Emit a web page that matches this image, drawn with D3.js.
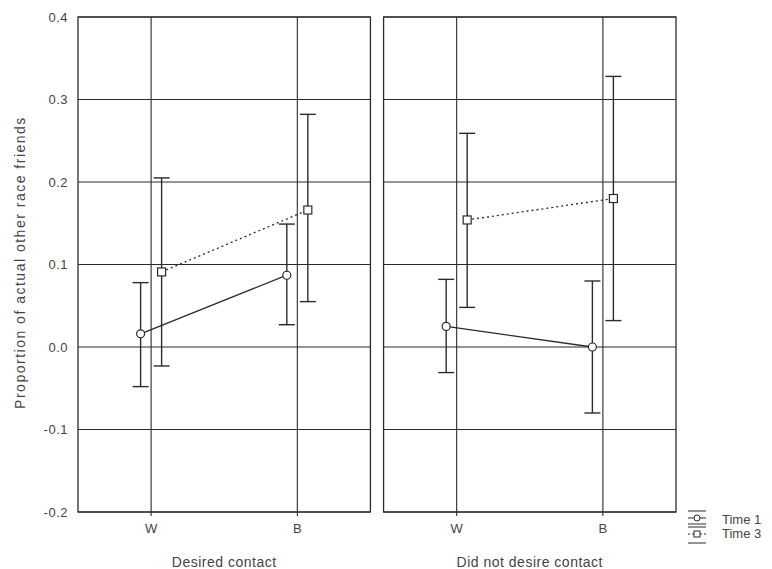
<!DOCTYPE html>
<html>
<head>
<meta charset="utf-8">
<script src="https://cdn.jsdelivr.net/npm/d3@7"></script>
<style>
  body { margin: 0; background: #fff; }
  text { font-family: "Liberation Sans", Arial, sans-serif; fill: #444; }
</style>
</head>
<body>
<svg id="chart" width="772" height="569"></svg>
<script>
// data
var panels = ["Desired contact", "Did not desire contact"]
var groups = ["W", "B"]
var seriesNames = ["Time 1", "Time 3"]
var yTicks = [-0.2, -0.1, 0.0, 0.1, 0.2, 0.3, 0.4]
var yTickLabels = ["-0.2", "-0.1", "0.0", "0.1", "0.2", "0.3", "0.4"]

// order: Desired W, Desired B, Not desired W, Not desired B
var time1Mean = [0.016, 0.087, 0.025, 0.000]
var time1Low  = [-0.048, 0.027, -0.031, -0.080]
var time1High = [0.078, 0.149, 0.082, 0.080]
var time3Mean = [0.091, 0.166, 0.154, 0.180]
var time3Low  = [-0.023, 0.055, 0.048, 0.032]
var time3High = [0.205, 0.282, 0.259, 0.328]

var svg = d3.select("#chart")
var lineColor = "#2b2b2b"

var y = d3.scaleLinear().domain([-0.2, 0.4]).range([512, 17])
var panelX = d3.scaleBand().domain(panels).range([78, 676]).paddingInner(0.043)
var groupX = d3.scalePoint().domain(groups).range([0, panelX.bandwidth()]).padding(0.5)
var dodge = d3.scalePoint().domain(seriesNames).range([-10.5, 10.5])

var rows = []
panels.forEach(function(p, pi) {
  groups.forEach(function(g, gi) {
    var i = pi * 2 + gi
    rows.push({ panel: p, group: g, series: "Time 1", mean: time1Mean[i], lo: time1Low[i], hi: time1High[i] })
    rows.push({ panel: p, group: g, series: "Time 3", mean: time3Mean[i], lo: time3Low[i], hi: time3High[i] })
  })
})

function xPos(d) { return panelX(d.panel) + groupX(d.group) + dodge(d.series) }

// panels: frame + grid
panels.forEach(function(p) {
  var x0 = panelX(p), x1 = x0 + panelX.bandwidth()
  var g = svg.append("g")

  g.selectAll("line.hgrid")
    .data(yTicks)
    .enter()
    .append("line")
    .attr("x1", x0).attr("x2", x1)
    .attr("y1", d => y(d)).attr("y2", d => y(d))
    .style("stroke", lineColor).style("stroke-width", 1.1)

  g.selectAll("line.vgrid")
    .data(groups)
    .enter()
    .append("line")
    .attr("x1", d => x0 + groupX(d)).attr("x2", d => x0 + groupX(d))
    .attr("y1", y(0.4)).attr("y2", y(-0.2) + 4)
    .style("stroke", lineColor).style("stroke-width", 1.1)

  g.append("rect")
    .attr("x", x0).attr("y", y(0.4))
    .attr("width", x1 - x0).attr("height", y(-0.2) - y(0.4))
    .style("fill", "none").style("stroke", lineColor).style("stroke-width", 1.3)

  g.selectAll("text.xtick")
    .data(groups)
    .enter()
    .append("text")
    .attr("x", d => x0 + groupX(d))
    .attr("y", 533)
    .attr("text-anchor", "middle")
    .style("font-size", "13px")
    .text(d => d)

  g.append("text")
    .attr("x", (x0 + x1) / 2)
    .attr("y", 567)
    .attr("text-anchor", "middle")
    .style("font-size", "14px")
    .style("letter-spacing", "0.5px")
    .text(p)
})

// y tick labels
svg.selectAll("text.ytick")
  .data(yTicks)
  .enter()
  .append("text")
  .attr("x", 68)
  .attr("y", d => y(d))
  .attr("dy", "0.35em")
  .attr("text-anchor", "end")
  .style("font-size", "13px")
  .style("letter-spacing", "0.5px")
  .text((d, i) => yTickLabels[i])

svg.append("text")
  .attr("transform", "translate(25," + (y(0.1) - 2) + ") rotate(-90)")
  .attr("text-anchor", "middle")
  .style("font-size", "14px")
  .style("letter-spacing", "1.5px")
  .text("Proportion of actual other race friends")

// connecting lines within each panel
panels.forEach(function(p) {
  seriesNames.forEach(function(s) {
    var pts = rows.filter(d => d.panel == p && d.series == s)
    svg.append("path")
      .datum(pts)
      .attr("d", d3.line().x(xPos).y(d => y(d.mean)))
      .style("fill", "none")
      .style("stroke", lineColor)
      .style("stroke-width", 1.3)
      .style("stroke-dasharray", s == "Time 3" ? "2,3" : null)
  })
})

// error bars
svg.selectAll("line.err")
  .data(rows)
  .enter()
  .append("line")
  .attr("x1", xPos).attr("x2", xPos)
  .attr("y1", d => y(d.lo)).attr("y2", d => y(d.hi))
  .style("stroke", lineColor).style("stroke-width", 1.4)

svg.selectAll("line.capHi")
  .data(rows)
  .enter()
  .append("line")
  .attr("x1", d => xPos(d) - 8).attr("x2", d => xPos(d) + 8)
  .attr("y1", d => y(d.hi)).attr("y2", d => y(d.hi))
  .style("stroke", lineColor).style("stroke-width", 1.4)

svg.selectAll("line.capLo")
  .data(rows)
  .enter()
  .append("line")
  .attr("x1", d => xPos(d) - 8).attr("x2", d => xPos(d) + 8)
  .attr("y1", d => y(d.lo)).attr("y2", d => y(d.lo))
  .style("stroke", lineColor).style("stroke-width", 1.4)

// markers
svg.selectAll("circle.t1")
  .data(rows.filter(d => d.series == "Time 1"))
  .enter()
  .append("circle")
  .attr("cx", xPos).attr("cy", d => y(d.mean)).attr("r", 4)
  .style("fill", "#fff").style("stroke", lineColor).style("stroke-width", 1.2)

svg.selectAll("rect.t3")
  .data(rows.filter(d => d.series == "Time 3"))
  .enter()
  .append("rect")
  .attr("x", d => xPos(d) - 4).attr("y", d => y(d.mean) - 4)
  .attr("width", 8).attr("height", 8)
  .style("fill", "#fff").style("stroke", lineColor).style("stroke-width", 1.2)

// Legend
var leg = svg.append("g")
leg.append("line").attr("x1", 688).attr("x2", 706).attr("y1", 511).attr("y2", 511).style("stroke", lineColor)
leg.append("line").attr("x1", 688).attr("x2", 706).attr("y1", 524).attr("y2", 524).style("stroke", lineColor)
leg.append("line").attr("x1", 688).attr("x2", 706).attr("y1", 527).attr("y2", 527).style("stroke", lineColor)
leg.append("line").attr("x1", 688).attr("x2", 706).attr("y1", 543).attr("y2", 543).style("stroke", lineColor)
leg.append("line").attr("x1", 688).attr("x2", 706).attr("y1", 518).attr("y2", 518).style("stroke", lineColor)
leg.append("line").attr("x1", 688).attr("x2", 706).attr("y1", 534).attr("y2", 534).style("stroke", lineColor).style("stroke-dasharray", "2,2")
leg.append("circle").attr("cx", 697).attr("cy", 518).attr("r", 3).style("fill", "#fff").style("stroke", lineColor)
leg.append("rect").attr("x", 694).attr("y", 531).attr("width", 6).attr("height", 6).style("fill", "#fff").style("stroke", lineColor)
leg.append("text").attr("x", 722).attr("y", 519).attr("dy", "0.35em").style("font-size", "13px").text("Time 1")
leg.append("text").attr("x", 722).attr("y", 533).attr("dy", "0.35em").style("font-size", "13px").text("Time 3")
</script>
</body>
</html>
